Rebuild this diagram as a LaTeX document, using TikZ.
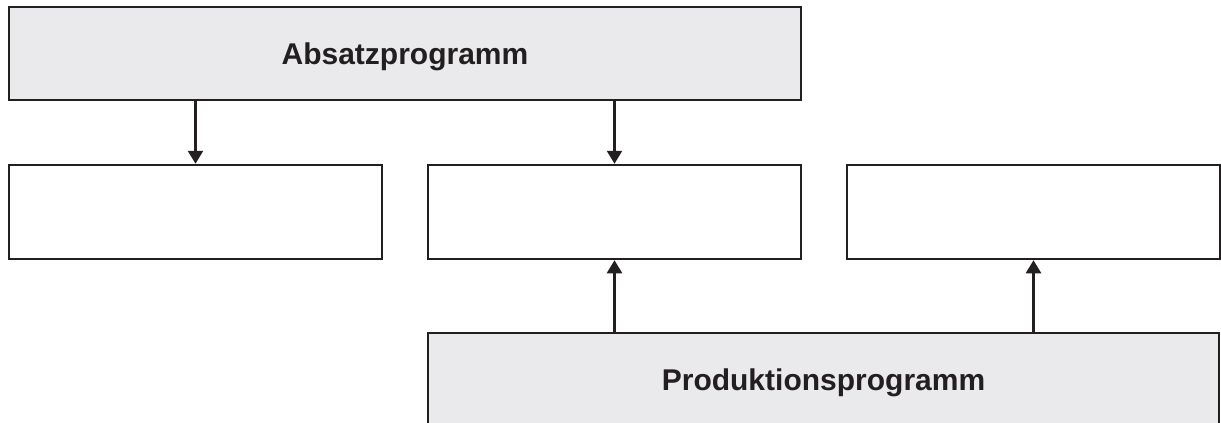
\documentclass[tikz,border=0pt]{standalone}
\usepackage{fontspec}
\setmainfont{Liberation Sans}
\usetikzlibrary{arrows.meta}
\definecolor{ink}{HTML}{231F20}
\definecolor{boxgrey}{HTML}{EAEAEC}
\tikzset{
  box/.style={draw=ink, line width=2.5pt, rectangle, inner sep=0pt,
    minimum height=93pt, text=ink, text height=21.5pt, text depth=0pt,
    font=\fontsize{30}{36}\selectfont\bfseries},
  greybox/.style={box, fill=boxgrey, minimum width=792pt},
  whitebox/.style={box, fill=white, minimum width=373pt, minimum height=94pt},
  conn/.style={draw=ink, line width=2.5pt, -{Triangle[width=15pt,length=13pt]}}
}
\begin{document}
\begin{tikzpicture}[x=1pt,y=-1pt]
\useasboundingbox (0,0) rectangle (1221,423);
\node[greybox] (top) at (405,53.5) {Absatzprogramm};
\node[whitebox] (ml) at (195.5,212) {};
\node[whitebox] (mc) at (614.5,212) {};
\node[whitebox] (mr) at (1033.5,212) {};
\node[greybox, minimum width=791pt] (bot) at (823.5,379.5) {Produktionsprogramm};
\draw[conn] (ml.north |- top.south) -- (ml.north);
\draw[conn] (mc.north |- top.south) -- (mc.north);
\draw[conn] (mc.south |- bot.north) -- (mc.south);
\draw[conn] (mr.south |- bot.north) -- (mr.south);
\end{tikzpicture}
\end{document}
